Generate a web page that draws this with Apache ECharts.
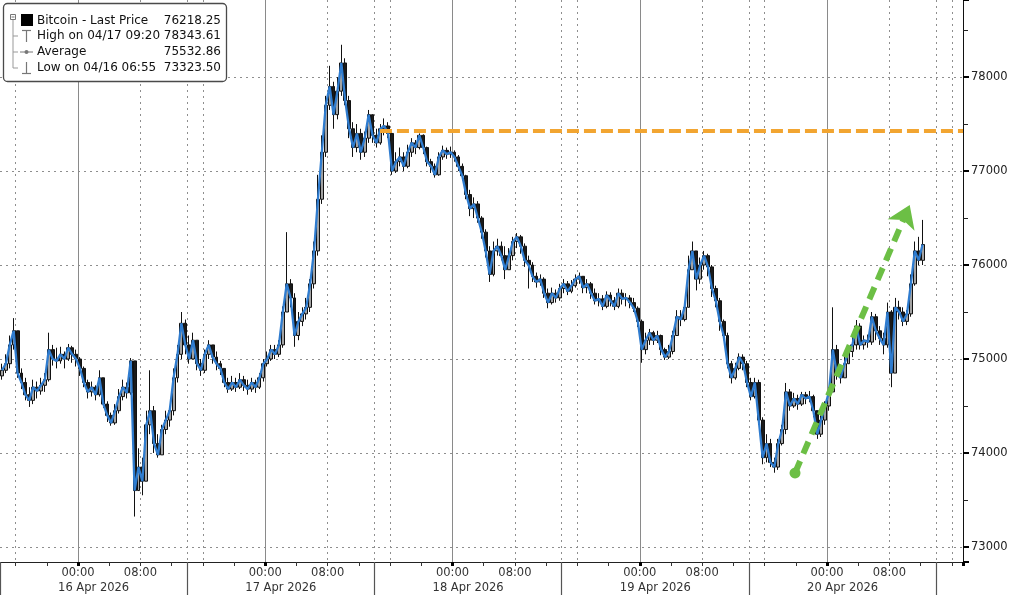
<!DOCTYPE html>
<html>
<head>
<meta charset="utf-8">
<script src="https://cdn.jsdelivr.net/npm/echarts@6/dist/echarts.min.js"></script>
<style>
  html, body { margin: 0; padding: 0; background: #fff; }
  #chart { width: 1024px; height: 595px; }
</style>
</head>
<body>
<div id="chart"></div>
<script>
// hours are counted from 16 Apr 2026 00:00, one candle every 30 minutes
const START_H = -10
const STEP_H = 0.5
const AXIS_MAX_H = 113.43

const closes = [
  74880, 74950, 75150, 75300, 74850, 74750, 74620, 74560, 74700, 74660,
  74720, 74780, 75100, 75000, 74980, 75050, 75000, 75120, 75050, 75000,
  74900, 74750, 74650, 74700, 74620, 74800, 74520, 74400, 74320, 74450,
  74600, 74700, 74640, 74980, 73600, 73850, 73700, 74300, 74450, 74100,
  73980, 74250, 74350, 74450, 74800, 75050, 75380, 75150, 75000, 75200,
  74950, 74880, 75050, 75150, 75020, 74950, 74900, 74750, 74680, 74750,
  74700, 74780, 74720, 74680, 74750, 74700, 74800, 74950, 75000, 75100,
  75050, 75150, 75500, 75800, 75650, 75250, 75400, 75480, 75550, 75800,
  76150, 76700, 77200, 77700, 77900, 77600, 77850, 78150, 77750, 77450,
  77250, 77400, 77200, 77350, 77600, 77380, 77300, 77450, 77480, 77400,
  77000, 77100, 77150, 77050, 77200, 77300, 77250, 77380, 77250, 77100,
  77050, 76960, 77150, 77220, 77180, 77200, 77150, 77050, 76950, 76750,
  76600, 76650, 76500, 76350, 76150, 75900, 76150, 76200, 76100, 75950,
  76100, 76250, 76300, 76200, 76050, 76000, 75880, 75820, 75850, 75700,
  75600, 75700, 75650, 75750, 75800, 75720, 75780, 75850, 75880, 75760,
  75800, 75700, 75620, 75640, 75560, 75680, 75620, 75560, 75700, 75640,
  75650, 75600, 75540, 75400, 75100, 75200, 75280, 75200, 75250, 75100,
  75020, 75080, 75250, 75450, 75420, 75550, 75950, 76150, 75850, 76000,
  76100, 75980, 75750, 75620, 75400, 75250, 74950, 74800, 74900, 75020,
  74950, 74750, 74600, 74750, 74350, 73950, 74100, 73900, 73850, 74100,
  74250, 74650, 74500, 74580, 74520, 74620, 74580, 74600, 74450, 74200,
  74350, 74500, 74650, 75100, 74850, 74800, 74950, 75080, 75150, 75350,
  75150, 75200, 75180, 75450, 75300, 75220, 75150, 75500, 74850, 75550,
  75500, 75400, 75480, 75800, 76150, 76050, 76218.25
]
const highs = [
  74950, 75050, 75250, 75435, 75300, 74900, 74800, 74700, 74780, 74760,
  74800, 74850, 75280, 75150, 75120, 75130, 75080, 75160, 75140, 75100,
  75020, 74920, 74780, 74760, 74720, 74880, 74800, 74550, 74430, 74520,
  74680, 74780, 74750, 75010, 74980, 74050, 73950, 74450, 74880, 74500,
  74200, 74300, 74450, 74500, 74900, 75150, 75500, 75420, 75250, 75280,
  75200, 75000, 75100, 75200, 75150, 75080, 74980, 74900, 74800, 74820,
  74800, 74850, 74820, 74780, 74800, 74780, 74850, 75000, 75080, 75150,
  75150, 75200, 75560, 76350, 75850, 75700, 75500, 75550, 75650, 75850,
  76250, 76960, 77380, 77800, 78120, 77950, 78000, 78343.61, 78200, 77800,
  77520, 77500, 77450, 77420, 77650, 77600, 77450, 77500, 77560, 77520,
  77420, 77200, 77250, 77200, 77280, 77350, 77330, 77400, 77390, 77260,
  77130, 77080, 77200, 77270, 77250, 77260, 77220, 77170, 77080, 76960,
  76800, 76720, 76680, 76520, 76380, 76200, 76250, 76280, 76250, 76200,
  76180, 76300, 76340, 76320, 76230, 76100, 76030, 75920, 75900, 75870,
  75750, 75760, 75740, 75800, 75850, 75830, 75840, 75900, 75920, 75880,
  75850, 75820, 75750, 75700, 75680, 75720, 75710, 75660, 75750, 75740,
  75700, 75680, 75650, 75560, 75420, 75280, 75320, 75300, 75300, 75260,
  75120, 75150, 75300, 75520, 75520, 75600, 76100, 76250, 76150, 76080,
  76150, 76120, 76000, 75780, 75650, 75420, 75280, 74980, 74960, 75060,
  75050, 74980, 74800, 74800, 74780, 74380, 74200, 74150, 73950, 74150,
  74300, 74745, 74680, 74640, 74620, 74650, 74650, 74660, 74620, 74450,
  74400, 74550, 74700, 75550, 75150, 74920, 75050, 75130, 75250, 75415,
  75380, 75250, 75260, 75500, 75480, 75350, 75280, 75600, 75520, 75650,
  75620, 75550, 75520, 75900, 76250, 76300, 76480
]
const lows = [
  74780, 74850, 74900, 75100, 74800, 74680, 74560, 74490, 74520, 74580,
  74620, 74650, 74760, 74930, 74900, 74950, 74900, 74980, 74960, 74920,
  74820, 74700, 74580, 74600, 74560, 74600, 74480, 74330, 74290, 74300,
  74420, 74560, 74580, 74620, 73323.5, 73600, 73550, 73900, 74200, 74000,
  73950, 73980, 74200, 74280, 74400, 74750, 75000, 75050, 74950, 75000,
  74880, 74820, 74850, 75000, 74950, 74880, 74830, 74700, 74640, 74660,
  74650, 74680, 74660, 74620, 74650, 74640, 74680, 74760, 74920, 74980,
  75000, 75020, 75120, 75500, 75550, 75130, 75200, 75350, 75420, 75500,
  75750, 76100, 76650, 77150, 77650, 77450, 77550, 77800, 77700, 77350,
  77150, 77200, 77120, 77150, 77300, 77300, 77250, 77280, 77380, 77350,
  76960, 76980, 77050, 77000, 77030, 77150, 77180, 77230, 77180, 77050,
  76980, 76930, 76950, 77120, 77130, 77140, 77100, 77000, 76900, 76700,
  76520, 76500, 76450, 76280, 76080, 75820, 75880, 76100, 76050, 75850,
  75950, 76050, 76180, 76120, 75980, 75750, 75820, 75760, 75780, 75650,
  75540, 75580, 75600, 75620, 75700, 75680, 75700, 75760, 75800, 75700,
  75700, 75640, 75580, 75560, 75520, 75540, 75560, 75520, 75540, 75580,
  75560, 75540, 75500, 75340, 74960, 75050, 75150, 75150, 75170, 75040,
  74990, 75000, 75050, 75250, 75350, 75400, 75550, 75950, 75730, 75800,
  75950, 75880, 75660, 75550, 75300, 75200, 74900, 74740, 74780, 74880,
  74880, 74700, 74560, 74580, 74300, 73880, 73900, 73850, 73790, 73820,
  74080, 74200, 74450, 74480, 74460, 74500, 74520, 74540, 74380, 74150,
  74170, 74300, 74450, 74650, 74780, 74740, 74800, 74950, 75020, 75100,
  75100, 75100, 75120, 75150, 75200, 75150, 75050, 75120, 74700, 74850,
  75420, 75350, 75360, 75450, 75780, 76000, 76000
]
const firstOpen = 74820

const legendLabels = ['Bitcoin - Last Price', 'High on 04/17 09:20', 'Average', 'Low on 04/16 06:55']
const legendValues = [76218.25, 78343.61, 75532.86, 73323.50]

const hourTicks = [0, 8]
const hourTickLabels = ['00:00', '08:00']
const dayLabels = ['16 Apr 2026', '17 Apr 2026', '18 Apr 2026', '19 Apr 2026', '20 Apr 2026']

// annotations (hours, price)
const resistance = { fromH: 38.7, level: 77430 }
const trendFrom = [91.9, 73787]
const trendTo = [106.6, 76640]

const PX_PER_HOUR = 187.25 / 24
const FONT = 'DejaVu Sans'

// open of each candle is the previous close
const candleData = closes.map((c, i) => {
    const o = i === 0 ? firstOpen : closes[i - 1]
    const t = START_H + i * STEP_H + STEP_H / 2
    return [t, o, c, Math.min(lows[i], o, c), Math.max(highs[i], o, c)]
})
const lineData = closes.map((c, i) => [START_H + i * STEP_H + STEP_H / 2, c])

const dotted = { color: '#8e8e8e', width: 1, type: [2, 4] }
const gridBase = { top: 0, right: 61, bottom: 33, containLabel: false, outerBoundsMode: 'none' }

const chart = echarts.init(document.getElementById('chart'))

const legendGraphic = [
    { type: 'rect', z: 100, shape: { x: 3.5, y: 3.5, width: 223, height: 78, r: 4 }, style: { fill: '#fff', stroke: '#4a4a4a', lineWidth: 1.3 } },
    { type: 'rect', z: 101, shape: { x: 10.5, y: 14.5, width: 5, height: 5 }, style: { fill: '#fff', stroke: '#777', lineWidth: 1 } },
    { type: 'line', z: 101, shape: { x1: 11.5, y1: 17, x2: 14.5, y2: 17 }, style: { stroke: '#777', lineWidth: 1 } },
    { type: 'line', z: 101, shape: { x1: 13, y1: 20, x2: 13, y2: 68 }, style: { stroke: '#999', lineWidth: 1 } },
    { type: 'line', z: 101, shape: { x1: 13, y1: 36, x2: 18, y2: 36 }, style: { stroke: '#999', lineWidth: 1 } },
    { type: 'line', z: 101, shape: { x1: 13, y1: 52, x2: 18, y2: 52 }, style: { stroke: '#999', lineWidth: 1 } },
    { type: 'line', z: 101, shape: { x1: 13, y1: 68, x2: 18, y2: 68 }, style: { stroke: '#999', lineWidth: 1 } },
    { type: 'rect', z: 101, shape: { x: 21, y: 14, width: 12, height: 12 }, style: { fill: '#000' } },
    { type: 'line', z: 101, shape: { x1: 22, y1: 30.5, x2: 31, y2: 30.5 }, style: { stroke: '#777', lineWidth: 1.2 } },
    { type: 'line', z: 101, shape: { x1: 26.5, y1: 30.5, x2: 26.5, y2: 42 }, style: { stroke: '#777', lineWidth: 1.2 } },
    { type: 'line', z: 101, shape: { x1: 20, y1: 52, x2: 33, y2: 52 }, style: { stroke: '#777', lineWidth: 1 } },
    { type: 'circle', z: 101, shape: { cx: 26.5, cy: 52, r: 2 }, style: { fill: '#777' } },
    { type: 'line', z: 101, shape: { x1: 26.5, y1: 62, x2: 26.5, y2: 73 }, style: { stroke: '#777', lineWidth: 1.2 } },
    { type: 'line', z: 101, shape: { x1: 22, y1: 73.5, x2: 31, y2: 73.5 }, style: { stroke: '#777', lineWidth: 1.2 } }
]
const legendRows = [21, 36, 52, 68]
legendLabels.forEach((label, i) => {
    legendGraphic.push({
        type: 'text', z: 101, x: 37, y: legendRows[i],
        style: { text: label, fill: '#111', font: '12px "' + FONT + '"', verticalAlign: 'middle', textVerticalAlign: 'middle' }
    })
    legendGraphic.push({
        type: 'text', z: 101, x: 221, y: legendRows[i],
        style: { text: legendValues[i].toFixed(2), fill: '#111', font: '12px "' + FONT + '"', align: 'right', textAlign: 'right', verticalAlign: 'middle', textVerticalAlign: 'middle' }
    })
})

const hourLabel = (v) => {
    const h = ((Math.round(v) % 24) + 24) % 24
    const k = hourTicks.indexOf(h)
    return k >= 0 ? hourTickLabels[k] : ''
}
const dayLabel = (v) => {
    const k = Math.round((v - START_H) / 24)
    return Math.abs(v - (START_H + 24 * k)) < 0.01 && dayLabels[k] ? dayLabels[k] : ''
}

const lastClose = closes[closes.length - 1]
const hiddenY = { type: 'value', show: false, min: 72840, max: 78820, axisLine: { onZero: false } }

chart.setOption({
    animation: false,
    backgroundColor: '#fff',
    textStyle: { fontFamily: FONT },
    grid: [
        // hour ticks + dotted grid every 8h
        Object.assign({ left: -6 * PX_PER_HOUR }, gridBase),
        // plotting grid, separators at 14:00
        Object.assign({ left: 0 }, gridBase),
        // solid midnight lines
        Object.assign({ left: -14 * PX_PER_HOUR }, gridBase)
    ],
    xAxis: [
        {
            gridIndex: 0, type: 'value', min: -16, max: AXIS_MAX_H, interval: 8,
            axisLine: { show: false, onZero: false },
            axisTick: { show: true, length: 4, lineStyle: { color: '#333' } },
            minorTick: { show: true, splitNumber: 2, length: 4, lineStyle: { color: '#333' } },
            splitLine: { show: true, lineStyle: dotted },
            axisLabel: { formatter: hourLabel, margin: 5, fontSize: 11.5, color: '#333', fontFamily: FONT }
        },
        {
            gridIndex: 1, type: 'value', min: START_H, max: AXIS_MAX_H, interval: 24,
            axisLine: { show: true, onZero: false, lineStyle: { color: '#222', width: 1 } },
            axisTick: { show: true, length: 33, lineStyle: { color: '#555', width: 1.2 } },
            splitLine: { show: true, showMinLine: false, showMaxLine: false, lineStyle: dotted },
            axisLabel: {
                formatter: dayLabel, margin: 20, fontSize: 11.5, color: '#333', fontFamily: FONT,
                showMinLabel: true, showMaxLabel: false, align: 'center', padding: [0, 0, 0, 24 * PX_PER_HOUR]
            }
        },
        {
            gridIndex: 2, type: 'value', min: -24, max: AXIS_MAX_H, interval: 24,
            axisLine: { show: false, onZero: false },
            axisTick: { show: true, length: 4, lineStyle: { color: '#000', width: 3 } },
            splitLine: { show: true, showMaxLine: false, lineStyle: { color: '#8a8a8a', width: 1 } },
            axisLabel: { show: false }
        }
    ],
    yAxis: [
        Object.assign({ gridIndex: 0 }, hiddenY),
        {
            gridIndex: 1, type: 'value', position: 'right', min: 72840, max: 78820, splitNumber: 5,
            axisLine: { show: true, onZero: false, lineStyle: { color: '#111', width: 1 } },
            axisTick: { show: true, length: 6, lineStyle: { color: '#000', width: 2 } },
            minorTick: { show: true, splitNumber: 2, length: 5, lineStyle: { color: '#222' } },
            splitLine: { show: true, showMinLine: false, showMaxLine: false, lineStyle: dotted },
            axisLabel: {
                formatter: (v) => String(v), margin: 8, fontSize: 11.5, color: '#222', fontFamily: FONT,
                showMinLabel: false, showMaxLabel: false
            }
        },
        Object.assign({ gridIndex: 2 }, hiddenY)
    ],
    graphic: legendGraphic,
    series: [
        {
            name: 'Bitcoin',
            type: 'candlestick',
            xAxisIndex: 1, yAxisIndex: 1,
            encode: { x: 0, y: [1, 2, 3, 4] },
            barWidth: 3.4,
            itemStyle: {
                color: '#a3a3a3', color0: '#1a1a1a',
                borderColor: '#111', borderColor0: '#111', borderWidth: 1
            },
            data: candleData,
            z: 3
        },
        {
            name: 'Last Price',
            type: 'line',
            xAxisIndex: 1, yAxisIndex: 1,
            showSymbol: false,
            lineStyle: { color: '#2f7ccf', width: 2.3 },
            data: lineData,
            z: 4,
            markLine: {
                silent: true,
                symbol: ['none', 'none'],
                data: [
                    [
                        { coord: [resistance.fromH, resistance.level], lineStyle: { color: '#f2a531', width: 4, type: [12, 5] } },
                        { coord: [AXIS_MAX_H, resistance.level] }
                    ],
                    [
                        { coord: trendFrom, symbol: 'circle', symbolSize: 11, lineStyle: { color: '#6cbf45', width: 6, type: [13, 8] } },
                        { coord: trendTo, symbol: 'arrow', symbolSize: 22 }
                    ],
                    {
                        yAxis: lastClose,
                        lineStyle: { opacity: 0 },
                        label: {
                            show: true, position: 'end', distance: 3,
                            formatter: lastClose.toFixed(2),
                            color: '#fff', backgroundColor: '#000', borderRadius: 2,
                            padding: [2, 3, 1, 3], fontSize: 11.5, fontFamily: FONT
                        }
                    }
                ]
            }
        }
    ]
})
</script>
</body>
</html>
